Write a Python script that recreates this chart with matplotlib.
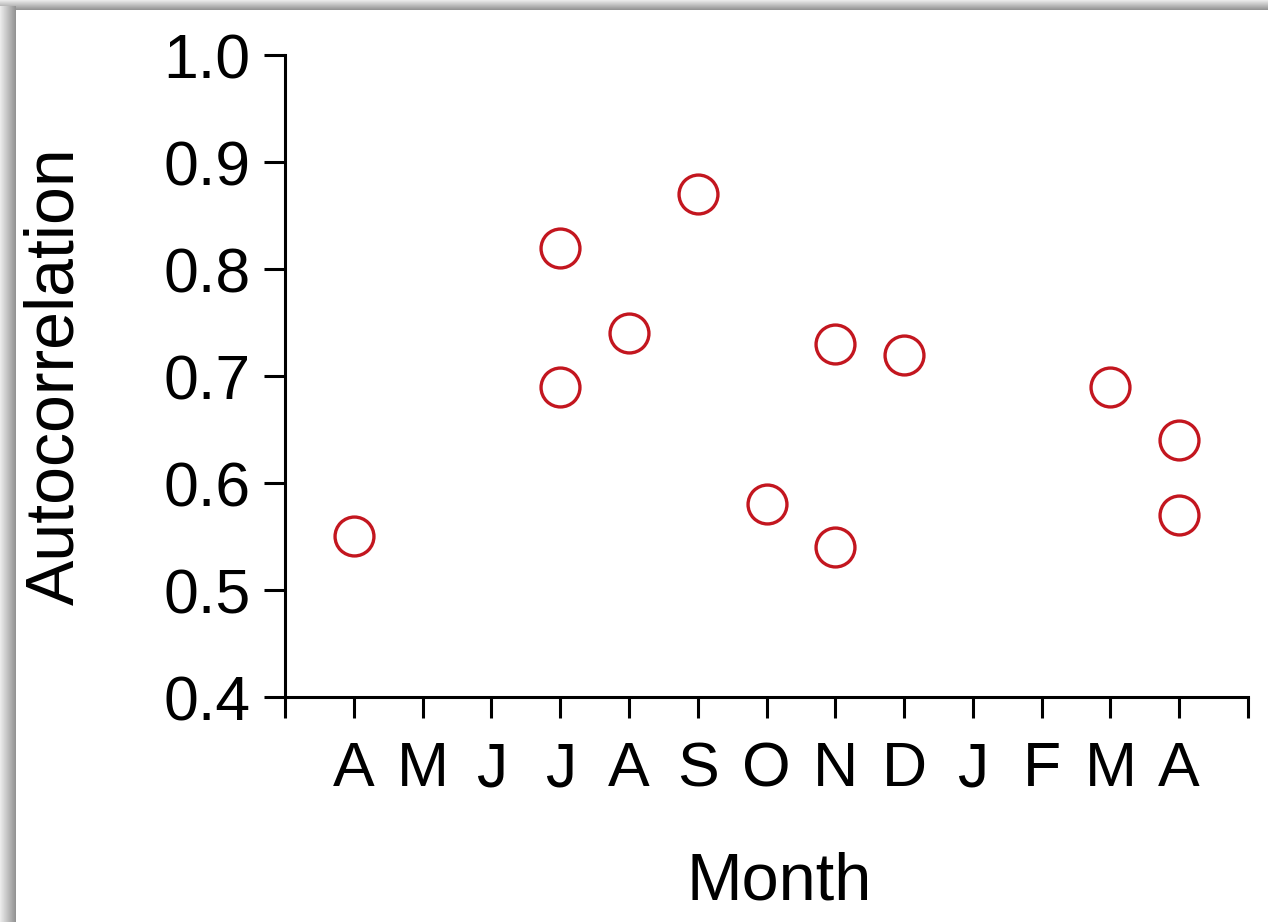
import matplotlib
matplotlib.use("Agg")
import matplotlib.pyplot as plt
import numpy as np

# month index along the x axis (1 = first April ... 13 = second April)
month_labels = ["A", "M", "J", "J", "A", "S", "O", "N", "D", "J", "F", "M", "A"]
point_month = [1, 4, 4, 5, 6, 7, 8, 8, 9, 12, 13, 13]
autocorr = [0.55, 0.82, 0.69, 0.74, 0.87, 0.58, 0.73, 0.54, 0.72, 0.69, 0.64, 0.57]

plt.rcParams["font.family"] = ["Liberation Sans", "DejaVu Sans"]

fig = plt.figure(figsize=(12.68, 9.22), dpi=100)
ax = fig.add_axes([285 / 1268, 1 - 697 / 922, (1248 - 285) / 1268, (697 - 55) / 922])

ax.plot(point_month, autocorr, linestyle="none", marker="o", markersize=28,
        markerfacecolor="none", markeredgecolor="#c3161f", markeredgewidth=2.4,
        clip_on=False)

ax.set_xlim(0, 14)
ax.set_ylim(0.4, 1.0)
ax.set_xticks(np.arange(0, 15))
ax.set_xticklabels([""] + month_labels + [""])
ax.set_yticks(np.arange(0.4, 1.01, 0.1))
ax.set_yticklabels([f"{v:.1f}" for v in np.arange(0.4, 1.01, 0.1)])

for side in ["top", "right"]:
    ax.spines[side].set_visible(False)
for side in ["left", "bottom"]:
    ax.spines[side].set_linewidth(2.2)

ax.tick_params(axis="both", direction="out", length=15, width=2.2, labelsize=45)
ax.tick_params(axis="y", pad=10)
ax.tick_params(axis="x", pad=16)

ax.set_xlabel("Month", fontsize=48, labelpad=38)
ax.xaxis.label.set_x(0.513)
ax.set_ylabel("Autocorrelation", fontsize=49)
ax.yaxis.set_label_coords(-0.205, 0.5)

# grey frame shadow along the top and left edges
grad = np.linspace(0.93, 0.57, 50)
top = fig.add_axes([0, 1 - 10 / 922, 1, 10 / 922])
top.imshow(grad[:, None], cmap="gray", vmin=0, vmax=1, aspect="auto")
top.axis("off")
left = fig.add_axes([0, 0, 16 / 1268, 1 - 6 / 922])
left.imshow(grad[None, :], cmap="gray", vmin=0, vmax=1, aspect="auto")
left.axis("off")

fig.savefig("out.png", dpi=100)
